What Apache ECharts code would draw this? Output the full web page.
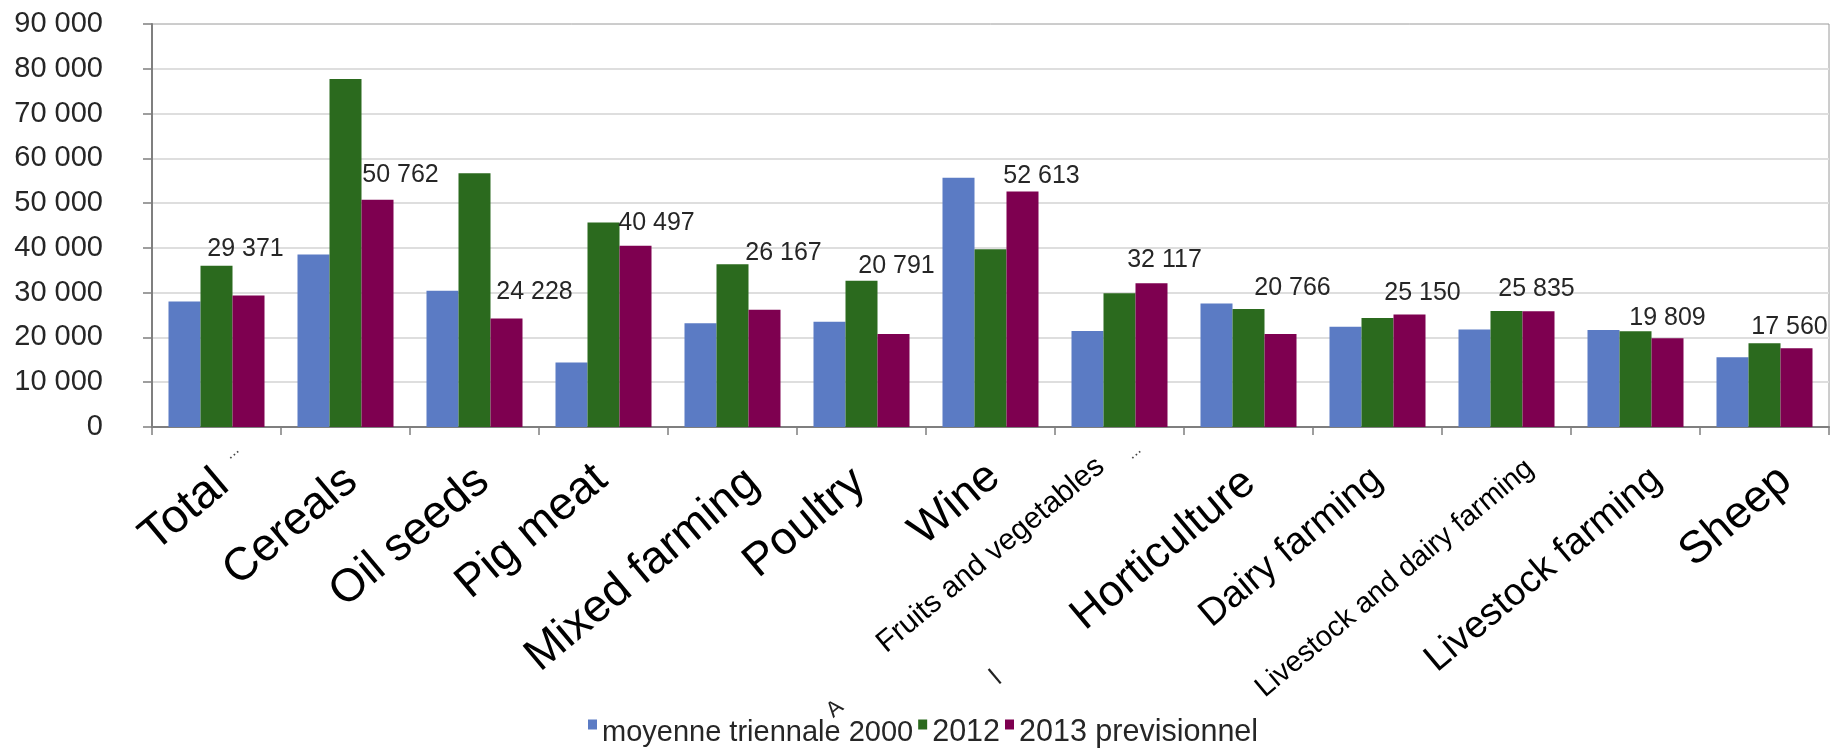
<!DOCTYPE html>
<html>
<head>
<meta charset="utf-8">
<script src="https://cdn.jsdelivr.net/npm/echarts@6/dist/echarts.min.js"></script>
<style>
  html, body { margin: 0; padding: 0; background: #ffffff; }
  #chart { width: 1831px; height: 749px; }
</style>
</head>
<body>
<div id="chart"></div>
<script>
// Farm income by type of farming (euros per holding)
const categories = [
  'Total', 'Cereals', 'Oil seeds', 'Pig meat', 'Mixed farming', 'Poultry', 'Wine',
  'Fruits and vegetables', 'Horticulture', 'Dairy farming',
  'Livestock and dairy farming', 'Livestock farming', 'Sheep'
];
const seriesNames = ['moyenne triennale 2000', '2012', '2013 previsionnel'];
const avg2000 = [28000, 38550, 30450, 14400, 23150, 23500, 55650, 21450, 27600, 22400, 21800, 21650, 15550];
const year2012 = [36000, 77700, 56650, 45650, 36350, 32650, 39700, 29850, 26350, 24350, 25900, 21400, 18700];
const year2013 = [29371, 50762, 24228, 40497, 26167, 20791, 52613, 32117, 20766, 25150, 25835, 19809, 17560];
const yMin = 0, yMax = 90000, yStep = 10000;

// Category label typography: font size per label and where each label ends,
// measured from a point 10px under its tick (px, right / down)
const tickLabelSize = [47, 46, 46, 46, 46, 46, 45, 30, 44, 38, 29, 38, 45];
const tickLabelEnd = [
  [6, 42], [6, 38], [9, 38], [-2, 36], [21, 40], [-2, 40], [4, 34],
  [-19, 26], [1, 40], [0, 38], [28, 24], [21, 38], [21, 38]
];

// Nudges for the 2013 value labels (px, relative to the bar top)
const labelNudges = [
  [-3, -34], [23, -12], [28, -14], [21, -10], [19, -44], [3, -55], [19, -3],
  [13, -11], [12, -33], [13, -9], [-2, -10], [0, -8], [-7, -9]
];

const FONT = '"Liberation Sans", Arial, Helvetica, sans-serif';
const groupSep = v => String(v).replace(/\B(?=(\d{3})+(?!\d))/g, ' ');
const ROT = 40;
const rad = d => d * Math.PI / 180;
const sinR = Math.sin(rad(ROT)), cosR = Math.cos(rad(ROT));

// One rich style per category: padding moves the rotated text to its end point
const tickRich = {};
categories.forEach((c, i) => {
  const [dx, dy] = tickLabelEnd[i];
  const down = Math.max(0, sinR * dx + cosR * dy);   // along the text's downward normal
  const back = Math.max(0, -cosR * dx + sinR * dy);  // back along the baseline
  tickRich['c' + i] = {
    fontSize: tickLabelSize[i], fontFamily: FONT, color: '#000000',
    padding: [Math.round(down * 2), Math.round(back), 0, 0]
  };
});

const legendText = { fontFamily: FONT, fontSize: 30.5, color: '#262626', padding: [16, 0, 0, 0] };

const chart = echarts.init(document.getElementById('chart'), null, { renderer: 'canvas' });

const option = {
  animation: false,
  backgroundColor: '#ffffff',
  textStyle: { fontFamily: FONT },
  grid: {
    left: 152, right: 2, top: 24, bottom: 322,
    show: true, borderColor: '#9a9a9a', borderWidth: 1, backgroundColor: 'transparent'
  },
  legend: {
    data: seriesNames.map((n, i) => i === 0
      ? { name: n, textStyle: { rich: { a: Object.assign({}, legendText, { fontSize: 29, padding: [16, 14, 0, 0] }) } } }
      : { name: n }),
    formatter: '{a|{name}}',
    left: 588, top: 717, padding: 0,
    icon: 'rect', itemWidth: 9, itemHeight: 10, itemGap: 5,
    textStyle: { fontFamily: FONT, fontSize: 30.5, color: '#262626', rich: { a: legendText } }
  },
  xAxis: {
    type: 'category',
    data: categories,
    axisLine: { lineStyle: { color: '#7f7f7f', width: 2 } },
    axisTick: { show: true, length: 8, lineStyle: { color: '#7f7f7f', width: 1.5 } },
    axisLabel: {
      interval: 0, rotate: ROT, margin: 10, color: '#000000', fontFamily: FONT,
      formatter: (v, i) => '{c' + i + '|' + v + '}',
      rich: tickRich
    },
    splitLine: { show: false }
  },
  yAxis: {
    type: 'value',
    min: yMin, max: yMax, interval: yStep,
    axisLine: { show: true, lineStyle: { color: '#7f7f7f', width: 2 } },
    axisTick: { show: true, length: 9, lineStyle: { color: '#7f7f7f', width: 1.5 } },
    axisLabel: { fontSize: 29, color: '#262626', margin: 49, fontFamily: FONT, formatter: groupSep },
    splitLine: { show: true, showMinLine: false, showMaxLine: false, lineStyle: { color: '#dedede', width: 2 } }
  },
  series: [
    {
      name: seriesNames[0], type: 'bar', data: avg2000,
      barWidth: 32, barGap: '0%',
      itemStyle: { color: '#5b7bc4' }
    },
    {
      name: seriesNames[1], type: 'bar', data: year2012,
      barWidth: 32, barGap: '0%',
      itemStyle: { color: '#2b6a1e' }
    },
    {
      name: seriesNames[2], type: 'bar',
      data: year2013.map((v, i) => ({ value: v, label: { offset: labelNudges[i] } })),
      barWidth: 32, barGap: '0%',
      itemStyle: { color: '#7e0050' },
      label: {
        show: true, position: 'top', distance: 0,
        fontSize: 25, color: '#262626', fontFamily: FONT,
        formatter: p => groupSep(p.value)
      }
    }
  ],
  graphic: [
    { type: 'text', x: 232, y: 452, rotation: rad(ROT),
      style: { text: '...', fontSize: 16, fill: '#444', fontFamily: FONT, align: 'center', verticalAlign: 'middle' } },
    { type: 'text', x: 1134, y: 452, rotation: rad(ROT),
      style: { text: '...', fontSize: 16, fill: '#444', fontFamily: FONT, align: 'center', verticalAlign: 'middle' } },
    { type: 'text', x: 835, y: 709, rotation: rad(ROT),
      style: { text: 'A', fontSize: 22, fill: '#222', fontFamily: FONT, align: 'center', verticalAlign: 'middle' } },
    { type: 'text', x: 996, y: 678, rotation: rad(ROT),
      style: { text: 'l', fontSize: 26, fill: '#222', fontFamily: FONT, align: 'center', verticalAlign: 'middle' } }
  ]
};

chart.setOption(option);
</script>
</body>
</html>
